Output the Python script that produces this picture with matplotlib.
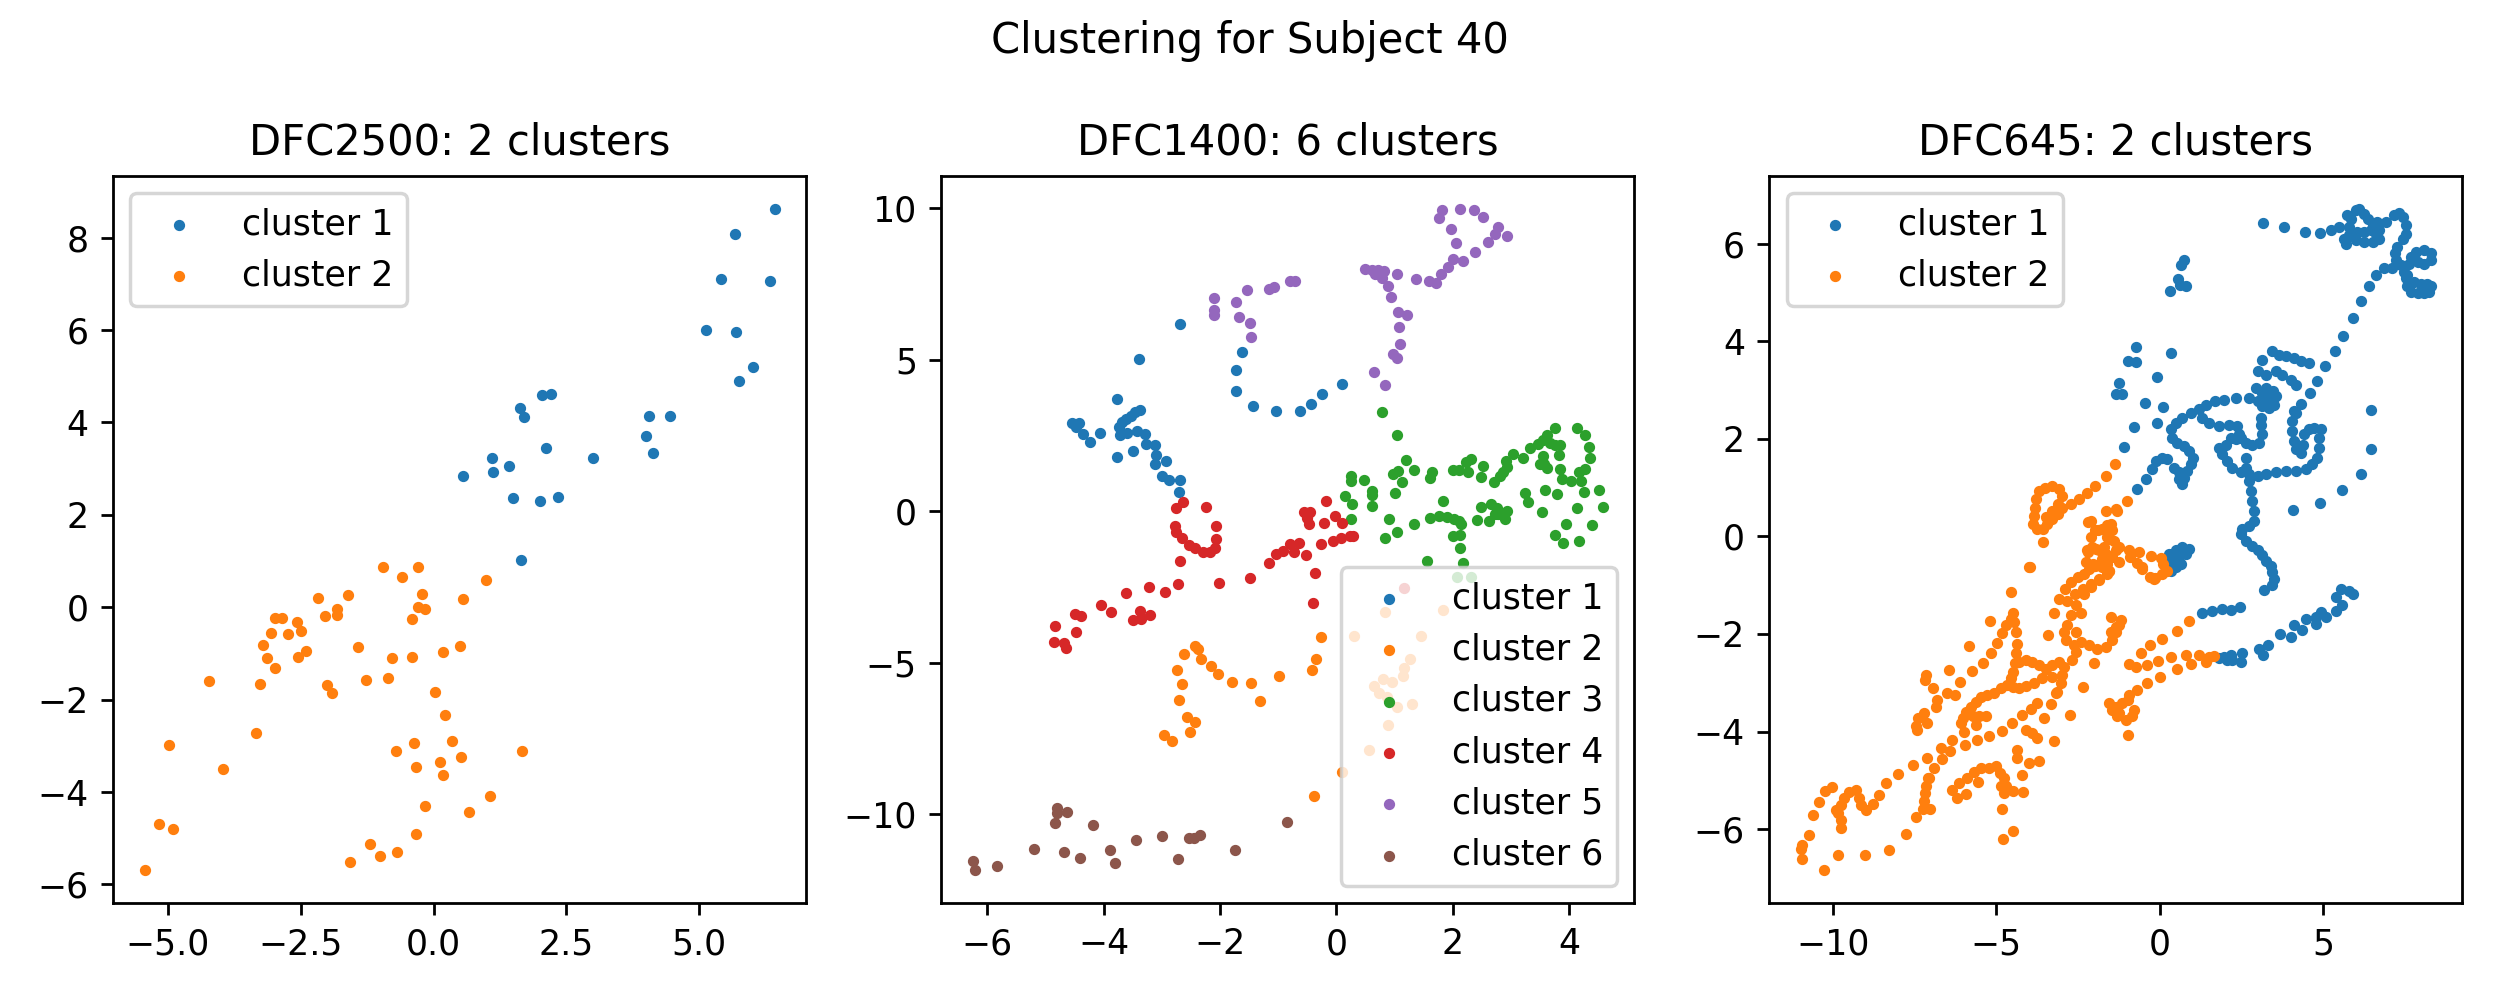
import numpy as np
import matplotlib
matplotlib.use('Agg')
import matplotlib.pyplot as plt

# ---- DFC2500 (2 clusters) ----
dfc2500_c1 = [
    (0.55, 2.85), (1.10, 3.23), (1.12, 2.93), (1.41, 3.06), (1.50, 2.36), (1.62, 4.31),
    (1.71, 4.11), (1.64, 1.03), (2.00, 2.29), (2.04, 4.60), (2.20, 4.62), (2.11, 3.45),
    (2.35, 2.38), (3.00, 3.23), (3.99, 3.70), (4.05, 4.14), (4.12, 3.34), (4.44, 4.14),
    (5.12, 6.00), (5.41, 7.11), (5.67, 8.08), (5.69, 5.96), (5.75, 4.90), (6.01, 5.20),
    (6.34, 7.07), (6.42, 8.62),
]
dfc2500_c2 = [
    (-0.96, 0.86), (-0.30, 0.86), (-0.60, 0.65), (-0.22, 0.29), (-0.29, 0.00), (-0.17, -0.03),
    (-0.41, -0.25), (-2.18, 0.19), (-1.61, 0.26), (-1.82, -0.03), (-1.81, -0.17), (-2.04, -0.20),
    (-2.98, -0.24), (-2.85, -0.24), (-2.57, -0.31), (-2.50, -0.52), (-2.74, -0.59), (-3.06, -0.56),
    (-3.21, -0.82), (-2.40, -0.95), (-2.55, -1.08), (-3.13, -1.09), (-2.99, -1.31), (-1.42, -0.86),
    (-0.79, -1.10), (-0.41, -1.08), (0.17, -0.97), (0.49, -0.84), (0.55, 0.18), (0.99, 0.59),
    (-4.23, -1.59), (-3.27, -1.66), (-2.01, -1.68), (-1.91, -1.85), (-1.27, -1.57), (-0.85, -1.54),
    (0.02, -1.83), (0.21, -2.34), (-3.35, -2.72), (-4.98, -2.98), (-3.96, -3.50), (-0.37, -2.93),
    (0.34, -2.89), (-0.70, -3.12), (-0.34, -3.45), (0.12, -3.34), (0.51, -3.25), (0.17, -3.64),
    (1.66, -3.11), (1.06, -4.09), (0.66, -4.44), (-0.17, -4.31), (-0.34, -4.91), (-1.20, -5.12),
    (-0.68, -5.30), (-1.00, -5.39), (-1.57, -5.51), (-5.17, -4.70), (-4.91, -4.80), (-5.44, -5.69),
]

# ---- DFC1400 (6 clusters) ----
dfc1400_c1 = [
    (-2.69, 6.16), (-3.40, 5.01), (-1.63, 5.25), (-1.73, 4.65), (-1.72, 3.97), (-1.43, 3.48),
    (-1.04, 3.32), (-0.62, 3.32), (-0.43, 3.55), (-0.24, 3.86), (0.10, 4.20), (-3.77, 3.69),
    (-4.54, 2.91), (-4.43, 2.92), (-4.48, 2.76), (-4.35, 2.53), (-4.23, 2.28), (-4.07, 2.58),
    (-3.74, 2.76), (-3.68, 2.94), (-3.62, 3.05), (-3.53, 3.14), (-3.46, 3.27), (-3.38, 3.33),
    (-3.72, 2.50), (-3.60, 2.59), (-3.43, 2.63), (-3.29, 2.53), (-3.49, 1.99), (-3.28, 2.23),
    (-3.11, 2.17), (-3.77, 1.79), (-3.10, 1.84), (-3.12, 1.54), (-2.92, 1.64), (-2.99, 1.17),
    (-2.88, 1.02), (-2.69, 1.02), (-2.70, 0.62),
]
dfc1400_c2 = [
    (-2.43, -4.45), (-2.37, -4.55), (-2.62, -4.71), (-2.33, -4.89), (-2.16, -5.11), (-2.03, -5.37),
    (-1.80, -5.63), (-1.46, -5.68), (-1.32, -6.27), (-0.98, -5.44), (-2.74, -5.25), (-2.66, -5.71),
    (-2.71, -6.24), (-2.56, -6.78), (-2.43, -6.96), (-2.52, -7.29), (-2.97, -7.37), (-2.82, -7.59),
    (-0.42, -5.25), (-0.35, -4.89), (-0.26, -4.14), (0.10, -8.60), (-0.39, -9.39),
    (0.84, -3.32), (1.83, -3.25), (0.31, -4.12), (1.45, -4.12), (1.26, -4.88), (1.17, -5.16),
    (1.15, -5.44), (0.95, -5.62), (0.80, -5.53), (0.65, -5.76), (0.73, -6.01), (0.87, -6.14),
    (1.04, -6.47), (1.30, -6.37), (0.88, -7.06), (0.56, -7.87),
]
dfc1400_c3 = [
    (0.79, 3.27), (1.04, 2.51), (0.25, 1.17), (0.25, 0.99), (0.14, 0.49), (0.27, 0.23),
    (0.26, -0.26), (0.48, 1.03), (0.62, 0.66), (0.61, 0.53), (0.62, 0.16), (0.97, 1.23),
    (1.06, 1.33), (1.12, 0.97), (1.19, 1.69), (1.33, 1.36), (1.00, 0.59), (0.91, -0.25),
    (1.04, -0.69), (0.83, -0.90), (1.34, -0.41), (1.61, 1.08), (1.64, 1.30), (1.61, -0.23),
    (1.76, -0.16), (1.83, 0.33), (1.90, -0.20), (2.02, -0.25), (2.11, -0.33), (2.14, -0.43),
    (2.00, 1.35), (2.10, 1.36), (2.22, 1.61), (2.31, 1.72), (2.27, 1.28), (2.01, -0.82),
    (2.13, -0.79), (2.12, -1.23), (2.17, -1.72), (1.56, -1.66), (2.07, -2.17), (2.31, -2.17),
    (2.52, 1.48), (2.49, 1.12), (2.71, 0.97), (2.82, 1.17), (2.86, 1.28), (2.93, 1.46),
    (2.92, 1.67), (3.04, 1.89), (3.20, 1.74), (3.32, 2.07), (3.46, 2.23), (3.55, 2.35),
    (3.62, 2.51), (3.76, 2.73), (3.67, 2.25), (3.76, 2.17), (3.84, 2.17), (3.83, 1.86),
    (3.55, 1.81), (3.57, 1.54), (3.50, 1.54), (3.62, 1.41), (3.84, 1.38), (3.87, 1.07),
    (4.03, 1.00), (4.13, 2.73), (4.28, 2.51), (4.34, 2.10), (4.36, 1.74), (4.28, 1.38),
    (4.17, 1.30), (4.21, 0.99), (4.26, 0.62), (4.52, 0.69), (4.58, 0.13), (4.13, 0.10),
    (4.40, -0.46), (4.17, -0.99), (3.95, -0.41), (3.89, -1.05), (3.76, -0.80), (3.53, -0.03),
    (3.59, 0.69), (3.79, 0.56), (3.25, 0.59), (3.30, 0.31), (2.66, 0.23), (2.76, 0.10),
    (2.77, -0.08), (2.90, -0.26), (2.94, 0.00), (2.62, -0.31), (2.41, -0.30), (2.49, 0.15),
    (2.72, -0.10),
]
dfc1400_c4 = [
    (-2.75, 0.10), (-2.63, 0.30), (-2.24, 0.13), (-2.77, -0.49), (-2.76, -0.69), (-2.65, -0.90),
    (-2.54, -1.12), (-2.43, -1.22), (-2.29, -1.35), (-2.18, -1.35), (-2.09, -1.23), (-2.07, -0.92),
    (-2.07, -0.49), (-2.69, -1.64), (-2.73, -2.40), (-2.95, -2.66), (-3.22, -2.51), (-3.61, -2.69),
    (-2.02, -2.38), (-1.49, -2.20), (-1.16, -1.72), (-1.04, -1.40), (-0.91, -1.31), (-0.80, -1.08),
    (-0.65, -1.05), (-0.72, -1.35), (-0.53, -1.46), (-0.56, -0.02), (-0.45, -0.02), (-0.51, -0.23),
    (-0.47, -0.41), (-0.22, -0.39), (-0.17, 0.33), (-0.03, -0.15), (0.10, -0.39), (-0.26, -1.08),
    (-0.06, -1.00), (0.08, -0.90), (0.23, -0.82), (0.29, -0.82), (-0.36, -2.05), (-0.40, -3.04),
    (-4.04, -3.10), (-3.87, -3.32), (-4.50, -3.40), (-4.39, -3.45), (-4.47, -3.99), (-3.50, -3.58),
    (-3.37, -3.30), (-3.36, -3.55), (-3.20, -3.42), (-4.84, -3.78), (-4.85, -4.32), (-4.68, -4.34),
    (-4.64, -4.50), (1.17, -2.55),
]
dfc1400_c5 = [
    (-2.10, 7.03), (-2.10, 6.62), (-2.10, 6.47), (-1.72, 6.90), (-1.68, 6.40), (-1.48, 6.21),
    (-1.47, 5.76), (-1.54, 7.29), (-1.16, 7.32), (-1.07, 7.39), (-0.79, 7.60), (-0.71, 7.60),
    (0.50, 7.98), (0.61, 7.95), (0.72, 7.96), (0.82, 7.93), (0.67, 7.82), (0.79, 7.68),
    (0.88, 7.44), (1.04, 7.83), (0.94, 7.06), (1.06, 6.58), (1.22, 6.47), (1.07, 6.08),
    (1.10, 5.53), (0.98, 5.19), (1.04, 5.06), (0.64, 4.58), (0.84, 4.17), (1.37, 7.65),
    (1.59, 7.60), (1.71, 7.52), (1.80, 7.83), (1.91, 8.06), (2.00, 8.33), (2.18, 8.24),
    (2.39, 8.56), (2.06, 8.83), (1.97, 9.31), (1.77, 9.67), (1.81, 9.92), (2.13, 9.97),
    (2.36, 9.93), (2.52, 9.70), (2.78, 9.38), (2.72, 9.15), (2.93, 9.08), (2.60, 8.87),
]
dfc1400_c6 = [
    (-6.25, -11.53), (-6.21, -11.84), (-5.83, -11.72), (-5.20, -11.13), (-4.83, -10.28),
    (-4.80, -9.79), (-4.80, -9.97), (-4.63, -9.92), (-4.68, -11.23), (-4.40, -11.45),
    (-4.19, -10.36), (-3.89, -11.17), (-3.81, -11.59), (-3.44, -10.84), (-3.00, -10.71),
    (-2.72, -11.46), (-2.53, -10.77), (-2.44, -10.79), (-2.34, -10.67), (-1.74, -11.17),
    (-0.84, -10.25),
]

# ---- DFC645 (2 clusters) ----
dfc645_c1 = [
    # top row and loops
    (3.16, 6.43), (3.81, 6.33), (4.44, 6.24), (4.92, 6.22), (5.24, 6.27), (5.50, 6.34),
    (5.65, 6.10), (5.70, 6.00), (5.80, 6.17), (5.86, 6.51), (6.01, 6.68), (6.11, 6.71),
    (6.26, 6.61), (6.37, 6.51), (6.52, 6.37), (6.62, 6.20), (6.72, 6.10), (6.52, 6.03),
    (6.26, 6.03), (6.01, 6.07), (6.06, 6.24), (6.26, 6.24), (6.47, 6.27), (5.80, 6.34),
    (5.75, 6.58), (6.72, 6.27), (6.67, 6.44), (6.93, 6.44), (7.18, 6.58), (7.34, 6.63),
    (7.46, 6.54), (7.54, 6.37), (7.54, 6.20), (7.44, 6.10), (7.28, 5.93), (7.21, 5.80),
    (7.23, 5.66), (7.39, 5.56), (7.49, 5.42), (7.54, 5.29), (7.59, 5.12), (7.69, 5.01),
    (7.90, 4.98), (8.10, 4.98), (8.25, 5.01), (8.31, 5.12), (8.20, 5.18), (8.00, 5.18),
    (7.79, 5.22), (7.59, 5.35), (7.69, 5.73), (7.85, 5.83), (8.10, 5.86), (8.31, 5.80),
    (8.31, 5.66), (8.10, 5.59), (7.90, 5.63), (7.64, 5.59),
    # diagonal run
    (7.11, 5.49), (6.88, 5.49), (6.62, 5.35), (6.42, 5.12), (6.18, 4.82), (5.91, 4.47),
    (5.63, 4.11), (5.36, 3.79), (5.08, 3.50), (4.83, 3.18), (4.60, 2.94), (4.34, 2.72),
    (4.17, 2.53),
    # isolated groups
    (0.75, 5.66), (0.65, 5.56), (0.58, 5.27), (0.62, 5.16), (0.80, 5.12), (0.31, 5.03),
    (-0.73, 3.87), (-0.97, 3.60), (-0.71, 3.57), (-1.24, 3.14), (-1.32, 2.92), (-1.14, 2.92),
    (-0.07, 3.26), (0.35, 3.75), (-0.44, 2.73), (0.11, 2.66), (-0.07, 2.32), (-0.78, 2.24),
    (-1.09, 1.83), (6.47, 2.58), (6.47, 1.79), (6.16, 1.27), (5.60, 0.95), (4.92, 0.68),
    (4.09, 0.55),
    # central tangle
    (3.15, 3.62), (3.44, 3.79), (3.66, 3.72), (3.86, 3.70), (4.12, 3.65), (4.32, 3.59),
    (4.58, 3.55), (3.00, 3.38), (3.25, 3.31), (3.56, 3.38), (3.76, 3.31), (4.02, 3.21),
    (4.17, 3.11), (2.95, 3.04), (3.15, 2.94), (3.30, 2.84), (3.46, 2.77), (3.56, 2.87),
    (3.46, 2.97), (3.25, 3.04), (3.00, 2.77), (3.15, 2.67), (3.35, 2.63), (3.51, 2.70),
    (2.74, 2.84), (2.33, 2.84), (1.97, 2.80), (1.70, 2.77), (1.41, 2.70), (1.21, 2.60),
    (0.95, 2.53), (0.70, 2.43), (0.50, 2.33), (0.34, 2.19), (0.39, 2.02), (0.55, 1.92),
    (0.75, 1.85), (0.90, 1.75), (1.01, 1.61), (0.95, 1.48), (0.85, 1.34), (0.75, 1.20),
    (0.70, 1.07), (0.60, 1.17), (0.60, 1.31), (0.44, 1.41), (0.24, 1.58), (0.09, 1.61),
    (-0.12, 1.54), (-0.22, 1.37), (-0.42, 1.17), (-0.68, 0.97), (1.31, 2.43), (1.52, 2.33),
    (1.82, 2.26), (2.13, 2.29), (2.38, 2.26), (2.44, 2.09), (2.33, 1.99), (2.18, 2.02),
    (2.03, 1.88), (1.82, 1.82), (1.92, 1.68), (2.08, 1.54), (2.23, 1.41), (2.49, 1.31),
    (2.74, 1.27), (3.00, 1.24), (3.25, 1.27), (3.56, 1.31), (3.86, 1.34), (4.17, 1.34),
    (4.48, 1.37), (4.68, 1.48), (4.83, 1.61), (4.89, 1.82), (4.89, 2.02), (4.94, 2.19),
    (4.73, 2.22), (4.58, 2.19), (4.43, 2.09), (4.38, 1.88), (4.32, 1.71), (4.17, 1.78),
    (4.12, 1.95), (4.07, 2.16), (4.05, 2.36), (4.12, 2.56), (3.10, 2.43), (3.10, 2.29),
    (3.15, 2.09), (3.05, 1.92), (2.84, 1.88), (2.64, 1.92), (2.49, 2.02),
    # vertical descent
    (2.64, 1.61), (2.66, 1.41), (2.74, 1.14), (2.79, 0.93), (2.84, 0.73), (2.89, 0.52),
    (2.89, 0.32), (2.74, 0.22), (2.54, 0.15), (2.49, 0.05), (2.64, -0.09), (2.84, -0.19),
    (3.00, -0.29), (3.15, -0.39), (3.25, -0.50), (3.40, -0.60), (3.45, -0.74), (3.51, -0.87),
    (3.43, -0.99), (3.20, -1.09),
    # blob near origin
    (0.29, -0.36), (0.49, -0.29), (0.70, -0.22), (0.90, -0.26), (0.80, -0.36), (0.60, -0.43),
    (0.39, -0.50), (0.24, -0.56), (0.34, -0.70), (0.50, -0.63), (0.65, -0.56),
    # lower runs
    (1.29, -1.58), (1.62, -1.52), (1.92, -1.48), (2.18, -1.50), (2.45, -1.45),
    (1.82, -2.50), (2.08, -2.54), (2.23, -2.54), (2.49, -2.57), (2.54, -2.40), (3.05, -2.30),
    (3.17, -2.43), (3.33, -2.23), (3.68, -2.01), (4.02, -2.07), (4.12, -1.82), (4.37, -1.92),
    (4.48, -1.69), (4.78, -1.79), (4.78, -1.65), (5.09, -1.65), (4.94, -1.55), (5.40, -1.52),
    (5.60, -1.41), (5.40, -1.24), (5.55, -1.07), (5.80, -1.11), (5.91, -1.18), (1.98, -2.47),
    (2.18, -2.43),
]
dfc645_c2 = [
    # lower-left tail
    (-10.93, -6.62), (-10.98, -6.41), (-10.93, -6.33), (-10.74, -6.13), (-10.62, -5.70),
    (-10.41, -5.45), (-10.23, -5.22), (-10.03, -5.14), (-10.28, -6.84), (-9.85, -6.54),
    (-9.01, -6.54), (-8.27, -6.43), (-7.75, -6.09), (-7.44, -5.75), (-9.75, -5.97),
    (-9.75, -5.82), (-9.85, -5.67), (-9.90, -5.60), (-9.75, -5.50), (-9.65, -5.36),
    (-9.52, -5.24), (-9.29, -5.20), (-9.21, -5.36), (-9.14, -5.50), (-8.97, -5.61),
    (-8.78, -5.48), (-8.60, -5.31), (-8.36, -5.05), (-7.99, -4.86), (-7.56, -4.68),
    (-7.12, -4.54), (-6.69, -4.34), (-6.34, -4.17), (-5.96, -4.27), (-5.60, -4.18),
    (-5.21, -4.09), (-4.83, -3.98), (-4.52, -3.83), (-4.22, -3.66), (-3.94, -3.54),
    (-3.74, -3.42), (-3.53, -3.73), (-3.33, -3.43), (-3.18, -3.22), (-3.74, -4.14),
    (-3.91, -4.03), (-4.09, -3.96), (-3.23, -4.20), (-2.74, -3.66), (-2.34, -3.08),
    (-7.10, -4.95), (-7.15, -5.12), (-7.18, -5.26), (-7.20, -5.43), (-7.25, -5.59),
    (-7.03, -5.59), (-7.07, -4.95), (-6.89, -4.75), (-6.65, -4.56), (-6.41, -4.39),
    (-6.34, -5.19), (-6.19, -5.36), (-5.93, -5.29), (-6.13, -5.05), (-5.88, -4.95),
    (-5.67, -4.82), (-5.47, -4.75), (-5.21, -4.75), (-4.99, -4.71), (-4.89, -4.85),
    (-4.76, -4.95), (-4.71, -5.12), (-4.50, -5.22), (-4.86, -5.12), (-4.76, -5.26),
    (-4.81, -5.58), (-4.79, -6.21), (-4.50, -6.04), (-5.57, -5.04), (-4.19, -5.24),
    (-4.21, -4.90), (-4.01, -4.65), (-3.70, -4.61), (-4.35, -4.37), (-4.35, -4.54),
    # middle chains
    (-7.15, -2.84), (-7.18, -2.94), (-6.92, -3.11), (-6.80, -3.35), (-6.83, -3.49),
    (-7.21, -3.63), (-7.38, -3.73), (-7.46, -3.88), (-7.41, -3.97), (-7.12, -3.82),
    (-6.44, -2.74), (-6.10, -2.98), (-6.51, -3.22), (-6.27, -3.25), (-5.83, -2.25),
    (-5.73, -2.75), (-5.39, -2.60), (-5.16, -2.39), (-4.96, -2.18), (-4.81, -1.98),
    (-4.71, -1.82), (-4.55, -1.69), (-4.50, -1.57), (-5.20, -1.73), (-4.55, -1.14),
    (-3.99, -0.62), (-4.45, -1.75), (-4.40, -1.96), (-4.35, -2.20), (-4.38, -2.40),
    (-4.42, -2.60), (-4.48, -2.78), (-4.55, -2.91), (-4.66, -3.05), (-4.86, -3.11),
    (-5.06, -3.22), (-5.27, -3.25), (-5.47, -3.29), (-5.62, -3.39), (-5.78, -3.49),
    (-5.93, -3.59), (-6.03, -3.73), (-6.08, -3.83), (-5.98, -4.00), (-5.72, -3.69),
    (-5.52, -3.69), (-5.32, -3.68), (-5.62, -3.86), (-4.30, -2.57), (-4.09, -2.54),
    (-3.89, -2.57), (-3.69, -2.64), (-3.48, -2.71), (-3.28, -2.64), (-3.08, -2.57),
    (-2.92, -2.67), (-2.97, -2.84), (-3.02, -3.01), (-3.13, -3.18), (-3.28, -2.88),
    (-3.59, -2.91), (-3.84, -3.01), (-4.09, -3.07), (-4.30, -3.11), (-4.50, -3.08),
    (-3.08, -1.28), (-2.89, -1.07), (-2.72, -0.94), (-2.51, -0.84), (-2.31, -0.77),
    (-2.16, -0.67), (-1.96, -0.60), (-1.70, -0.63), (-1.60, -0.77), (-1.85, -0.90),
    (-2.11, -1.04), (-2.31, -1.18), (-2.57, -1.41), (-2.41, -1.58), (-2.72, -1.62),
    (-2.82, -1.82), (-2.92, -1.96), (-2.87, -2.13), (-2.62, -2.23), (-2.41, -2.16),
    (-2.16, -2.23), (-1.91, -2.30), (-1.65, -2.26), (-1.44, -2.13), (-1.34, -1.96),
    (-1.24, -1.82), (-1.50, -1.65), (-2.57, -2.37), (-2.67, -2.54), (-2.00, -2.60),
    (-2.57, -1.96), (-3.23, -1.58), (-3.40, -2.03), (-1.55, -3.42), (-1.44, -3.55),
    (-1.29, -3.69),
    # upper loop and line
    (-1.36, 1.49), (-1.65, 1.24), (-1.96, 1.03), (-2.21, 0.88), (-2.46, 0.76), (-2.72, 0.66),
    (-2.97, 0.59), (-3.12, 0.46), (-3.28, 0.35), (-3.43, 0.25), (-3.58, 0.15), (-3.74, 0.15),
    (-3.87, 0.25), (-3.84, 0.42), (-3.81, 0.59), (-3.77, 0.76), (-3.69, 0.93), (-3.50, 1.00),
    (-3.28, 1.03), (-3.08, 0.97), (-2.97, 0.83), (-3.12, 0.66), (-3.28, 0.52), (-3.48, 0.39),
    (-3.58, -0.12), (-3.97, -0.62), (-1.65, 0.52), (-1.34, 0.56), (-2.11, 0.32), (-1.96, 0.12),
    (-1.76, 0.16), (-1.60, -0.02), (-1.44, 0.12), (-2.21, -0.29), (-2.06, -0.22), (-1.85, -0.29),
    (-1.65, -0.36), (-1.44, -0.43), (-2.26, -0.53), (-2.00, -0.60), (-1.75, -0.63), (-1.34, -0.29),
    (-1.39, -0.09), (-0.99, 0.73), (-1.29, 0.51), (-1.50, 0.25), (-1.24, -0.21), (-0.93, -0.29),
    (-0.63, -0.33), (-0.27, -0.41), (0.04, -0.44), (0.11, -0.57), (-0.13, -0.86), (-0.30, -0.83),
    (-0.54, -0.67), (-0.70, -0.55), (-0.90, -0.42), (-1.55, -0.70), (-1.24, -0.53), (-0.53, -0.63),
    (-0.17, -0.87), (0.09, -0.77), (0.24, -0.70), (-2.18, 0.30), (-1.89, 0.14), (-2.10, -0.01),
    (-1.61, 0.24), (-1.52, -0.06), (-1.69, -0.21), (-1.93, -0.26), (-2.18, -0.32), (-1.77, -0.47),
    (-1.61, -0.57), (-2.05, -0.57), (-1.56, -0.72), (-1.85, -0.88), (-2.10, -0.98), (-2.34, -1.08),
    (-2.59, -1.18), (-2.84, -1.33),
    # right-hand branches
    (0.90, -1.73), (0.53, -1.94), (0.09, -2.11), (-0.28, -2.23), (-0.58, -2.39), (-0.93, -2.61),
    (-0.73, -2.67), (-0.37, -2.64), (-0.04, -2.55), (0.34, -2.48), (0.80, -2.43), (1.21, -2.43),
    (1.52, -2.48), (1.67, -2.46), (1.41, -2.57), (0.95, -2.62), (0.53, -2.71), (0.02, -2.88),
    (-0.39, -3.00), (-0.68, -3.15), (-0.93, -3.25), (-1.14, -3.42), (-1.24, -3.63), (-1.04, -3.76),
    (-0.98, -4.07), (-0.83, -3.69), (-0.78, -3.56), (-0.98, -3.35), (-1.34, -3.49), (-1.19, -1.72),
    (-1.34, -1.86), (-1.50, -1.96),
]

titles = ['DFC2500: 2 clusters', 'DFC1400: 6 clusters', 'DFC645: 2 clusters']
panels = [
    [dfc2500_c1, dfc2500_c2],
    [dfc1400_c1, dfc1400_c2, dfc1400_c3, dfc1400_c4, dfc1400_c5, dfc1400_c6],
    [dfc645_c1, dfc645_c2],
]
legend_loc = ['upper left', 'lower right', 'upper left']

fig, axes = plt.subplots(1, 3, figsize=(10, 4))
for ax, title, clusters, loc in zip(axes, titles, panels, legend_loc):
    for i, pts in enumerate(clusters):
        pts = np.array(pts)
        ax.scatter(pts[:, 0], pts[:, 1], s=5, label=f'cluster {i + 1}')
    ax.set_title(title)
    ax.legend(loc=loc)

fig.suptitle('Clustering for Subject 40')
plt.tight_layout()
plt.savefig('out.png', dpi=250)
plt.close(fig)
